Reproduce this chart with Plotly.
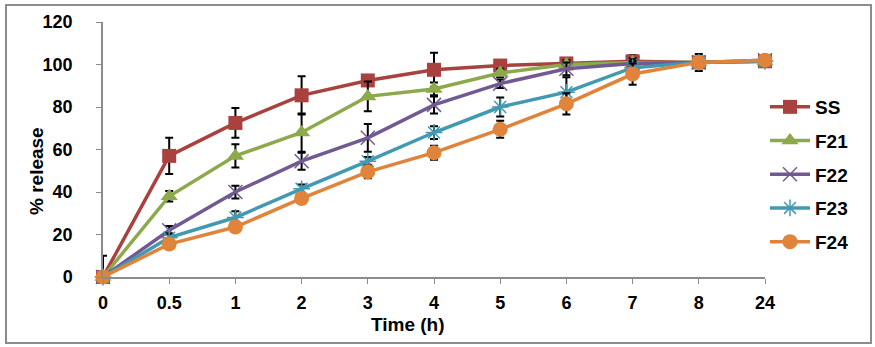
import plotly.graph_objects as go

times = ["0", "0.5", "1", "2", "3", "4", "5", "6", "7", "8", "24"]

ss = [0, 57, 72.5, 85.5, 92.5, 97.5, 99.5, 100.5, 101.5, 101, 101.5]
ss_err = [10, 8.5, 7, 9, 2, 8, 1.5, 2, 3, 4, 1]
f21 = [0, 38, 57, 68, 85, 88.5, 96, 100, 101, 101, 101.5]
f21_err = [0, 2.5, 5.5, 9, 7, 3, 2, 2, 2, 2, 1]
f22 = [0, 22, 40, 54.5, 65.5, 81, 91, 98, 100.5, 101, 102]
f22_err = [0, 2, 3, 4, 6.5, 4, 2, 3, 2, 2, 1]
f23 = [0, 18.5, 28, 41.5, 54.5, 68, 80, 87, 98.5, 101, 101.5]
f23_err = [0, 2, 3, 2, 2, 3, 4.5, 7, 3, 2, 1]
f24 = [0, 15.5, 23.5, 37, 49.5, 58.5, 69.5, 81.5, 95.5, 101, 102]
f24_err = [0, 2, 2, 2, 3, 3.3, 4, 5, 5, 2, 1]

series = [
    ("SS", ss, ss_err, "#A9423F", dict(symbol="square", size=14)),
    ("F21", f21, f21_err, "#8CA94B", dict(symbol="triangle-up", size=15)),
    ("F22", f22, f22_err, "#715A91", dict(symbol="x-thin", size=14)),
    ("F23", f23, f23_err, "#4299B2", dict(symbol="asterisk", size=14)),
    ("F24", f24, f24_err, "#E0843B", dict(symbol="circle", size=15)),
]

FONT = "Liberation Sans, Arial, sans-serif"

fig = go.Figure()
for name, vals, err, color, mk in series:
    minus = [0 if t == "0" else e for t, e in zip(times, err)]
    marker = dict(color=color, **mk)
    if mk["symbol"] in ("x-thin", "asterisk"):
        marker["line"] = dict(color=color, width=1.5)
    else:
        marker["line"] = dict(width=0)
    fig.add_trace(go.Scatter(
        x=times, y=vals, name=name, mode="lines+markers",
        line=dict(color=color, width=3.5),
        marker=marker,
        error_y=dict(type="data", array=err, arrayminus=minus, visible=True,
                     color="black", thickness=2, width=4),
        cliponaxis=False,
        legendgroup=name,
    ))

W, H = 875, 347
L, R, T, B = 103, 110, 22, 70
pw, ph = W - L - R, H - T - B

def px(x):
    return (x - L) / pw

def py(y):
    return (H - B - y) / ph

fig.update_layout(
    width=W, height=H,
    margin=dict(l=L, r=R, t=T, b=B),
    paper_bgcolor="white", plot_bgcolor="white",
    font=dict(family=FONT, size=18, color="black"),
    showlegend=True,
    legend=dict(x=px(765), y=py(88), xanchor="left", yanchor="top",
                font=dict(family=FONT, size=19, color="black", weight="bold"),
                tracegroupgap=6, bgcolor="rgba(0,0,0,0)", itemwidth=40),
    xaxis=dict(type="category", categoryorder="array", categoryarray=times,
               range=[0, 10], showline=True, linecolor="#8c8c8c", linewidth=1.5,
               ticks="outside", ticklen=5, tickcolor="#8c8c8c", showgrid=False,
               zeroline=False, ticklabelstandoff=4,
               tickfont=dict(family=FONT, size=18, color="black", weight="bold")),
    yaxis=dict(range=[0, 120], tickvals=[0, 20, 40, 60, 80, 100, 120],
               showline=True, linecolor="#8c8c8c", linewidth=1.5,
               ticks="outside", ticklen=5, tickcolor="#8c8c8c", showgrid=False,
               zeroline=False, ticklabelstandoff=20,
               tickfont=dict(family=FONT, size=18, color="black", weight="bold")),
    shapes=[dict(type="rect", xref="paper", yref="paper",
                 x0=px(6), x1=px(871), y0=py(343), y1=py(5),
                 line=dict(color="#8c8c8c", width=2), layer="below")],
    annotations=[
        dict(text="<b>% release</b>", xref="paper", yref="paper",
             x=px(37), y=py(171), textangle=-90, showarrow=False,
             xanchor="center", yanchor="middle",
             font=dict(family=FONT, size=19, color="black")),
        dict(text="<b>Time (h)</b>", xref="paper", yref="paper",
             x=px(408), y=py(324), showarrow=False,
             xanchor="center", yanchor="middle",
             font=dict(family=FONT, size=19, color="black")),
    ],
)

fig.write_html("out.html")
